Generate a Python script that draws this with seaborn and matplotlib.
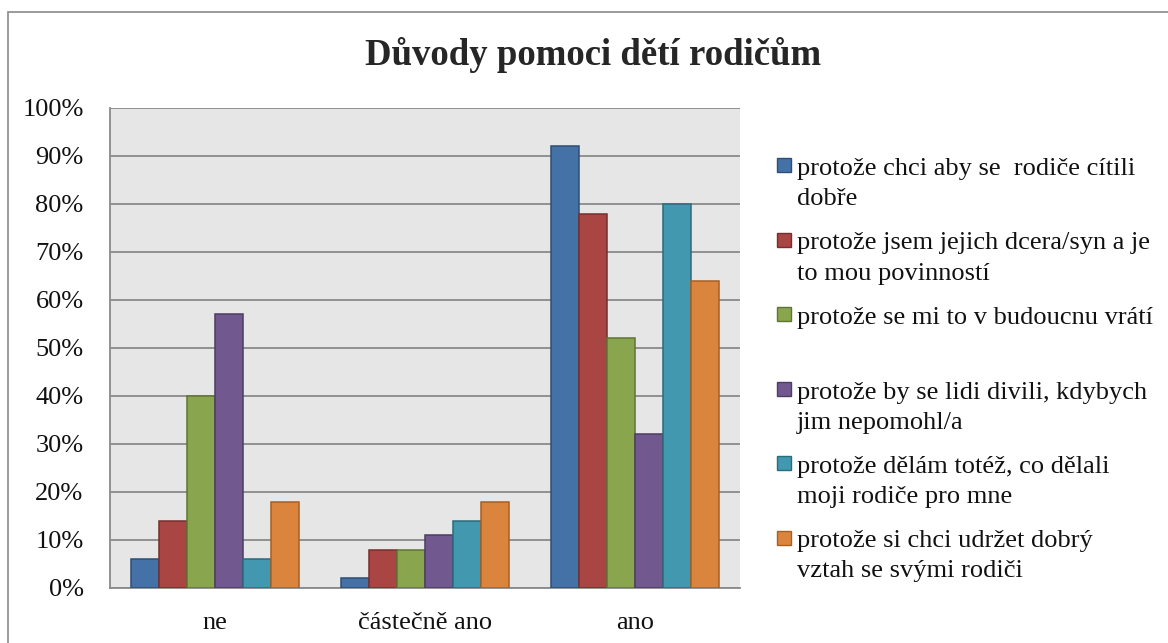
import matplotlib
matplotlib.use("Agg")
import matplotlib.pyplot as plt
import seaborn as sns
import pandas as pd
from matplotlib.patches import Rectangle

# data (percent)
categories = ["ne", "částečně ano", "ano"]
series = [
    "protože chci aby se  rodiče cítili\ndobře",
    "protože jsem jejich dcera/syn a je\nto mou povinností",
    "protože se mi to v budoucnu vrátí",
    "protože by se lidi divili, kdybych\njim nepomohl/a",
    "protože dělám totéž, co dělali\nmoji rodiče pro mne",
    "protože si chci udržet dobrý\nvztah se svými rodiči",
]
values = [
    [6, 2, 92],
    [14, 8, 78],
    [40, 8, 52],
    [57, 11, 32],
    [6, 14, 80],
    [18, 18, 64],
]
yticks = list(range(0, 101, 10))

colors = ["#4471A6", "#A94542", "#89A54E", "#71588F", "#4198AF", "#DB843D"]
edges = ["#2E4E75", "#772F2D", "#5F7533", "#4D3C63", "#2A6B7C", "#A85F22"]

rows = []
for s, vals in zip(series, values):
    for c, v in zip(categories, vals):
        rows.append({"kategorie": c, "duvod": s, "podil": v})
df = pd.DataFrame(rows)

sns.set_style("white")
plt.rcParams["font.family"] = ["Liberation Serif", "DejaVu Serif"]

W, H = 1168, 643
fig = plt.figure(figsize=(W / 100, H / 100), dpi=100)
ax = fig.add_axes([110 / W, 1 - 588 / H, 630 / W, 480 / H])

sns.barplot(data=df, x="kategorie", y="podil", hue="duvod", order=categories,
            hue_order=series, palette=colors, width=0.8, saturation=1,
            legend=False, ax=ax, zorder=3)
for cont, ec in zip(ax.containers, edges):
    for bar in cont:
        bar.set_edgecolor(ec)
        bar.set_linewidth(1.1)

ax.set_facecolor("#E6E6E6")
ax.set_ylim(0, 100)
ax.set_xlim(-0.5, 2.5)
ax.set_yticks(yticks)
ax.set_yticklabels([f"{t}%" for t in yticks])
ax.yaxis.grid(True, color="#8A8A8A", linewidth=1.3)
ax.set_axisbelow(True)
ax.tick_params(axis="y", length=0, pad=19, labelsize=19, labelcolor="#111111")
ax.tick_params(axis="x", length=0, pad=17, labelsize=19, labelcolor="#111111")
ax.set_xlabel("")
ax.set_ylabel("")
for side in ["top", "right"]:
    ax.spines[side].set_visible(False)
for side in ["left", "bottom"]:
    ax.spines[side].set_color("#8A8A8A")
    ax.spines[side].set_linewidth(1.3)

fig.text(593 / W, 1 - 65 / H, "Důvody pomoci dětí rodičům", ha="center",
         va="baseline", fontsize=26.5, fontweight="bold")

# legend drawn by hand so the box sits on the first line like in Excel
for i, (s, c, ec) in enumerate(zip(series, colors, edges)):
    yb = 175 + i * 74.5
    fig.add_artist(Rectangle((777 / W, 1 - (yb - 3) / H), 14 / W, 14 / H,
                             facecolor=c, edgecolor=ec, linewidth=1,
                             transform=fig.transFigure))
    for k, line in enumerate(s.split("\n")):
        fig.text(797 / W, 1 - (yb + 30 * k) / H, line, ha="left",
                 va="baseline", fontsize=19, color="#111111")

# outer chart border
fig.add_artist(Rectangle((8 / W, -0.1), 1.2, 1.1 - 12 / H, fill=False,
                         edgecolor="#8A8A8A", linewidth=1.2,
                         transform=fig.transFigure))

fig.savefig("out.png", dpi=100)
